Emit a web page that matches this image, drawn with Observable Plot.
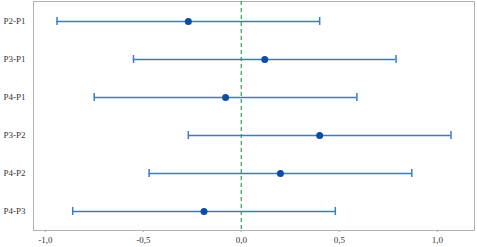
<!DOCTYPE html>
<html>
<head>
<meta charset="utf-8">
<script src="https://cdn.jsdelivr.net/npm/d3@7"></script>
<script src="https://cdn.jsdelivr.net/npm/@observablehq/plot@0.6"></script>
<style>
  html, body { margin: 0; padding: 0; background: #fff; }
  #chart svg { display: block; }
</style>
</head>
<body>
<div id="chart"></div>
<script>
const comparisons = ["P2-P1", "P3-P1", "P4-P1", "P3-P2", "P4-P2", "P4-P3"];
const estimates   = [-0.27, 0.12, -0.08, 0.40, 0.20, -0.19];
const lowers      = [-0.94, -0.55, -0.75, -0.27, -0.47, -0.86];
const uppers      = [0.40, 0.79, 0.59, 1.07, 0.87, 0.48];
const xTicks      = [-1, -0.5, 0, 0.5, 1];

const data = comparisons.map((name, i) => ({
  name, est: estimates[i], lo: lowers[i], hi: uppers[i]
}));

const fmt = v => d3.format(".1f")(v).replace(".", ",").replace("\u2212", "-");
const lineColor = "#3b7cc6";
const dotColor = "#0b4ea3";

const chart = Plot.plot({
  width: 477,
  height: 247,
  marginLeft: 33,
  marginRight: 3,
  marginTop: 1,
  marginBottom: 17,
  style: { fontFamily: "'Liberation Serif', 'Times New Roman', serif", fontSize: "9px", color: "#333", background: "#fff" },
  x: { domain: [-1.06, 1.19], ticks: xTicks, tickFormat: fmt, label: null },
  y: { domain: comparisons, type: "band", padding: 0, label: null },
  marks: [
    Plot.frame({ stroke: "#b3b3b3", strokeWidth: 1 }),
    Plot.axisX({ ticks: xTicks, tickFormat: fmt, tickSize: 2, tickPadding: 4, stroke: "#aaa", fill: "#333", label: null }),
    Plot.axisY({ tickSize: 0, tickPadding: 8, fill: "#333", label: null }),
    Plot.ruleX([0], { stroke: "#2fa24a", strokeWidth: 1.2, strokeDasharray: "4,3" }),
    Plot.ruleY(data, { y: "name", x1: "lo", x2: "hi", stroke: lineColor, strokeWidth: 1.5 }),
    Plot.tickX(data, { x: "lo", y: "name", stroke: lineColor, strokeWidth: 1.5, insetTop: 15, insetBottom: 15 }),
    Plot.tickX(data, { x: "hi", y: "name", stroke: lineColor, strokeWidth: 1.5, insetTop: 15, insetBottom: 15 }),
    Plot.dot(data, { x: "est", y: "name", r: 3.5, fill: dotColor, stroke: "none" })
  ]
});
document.getElementById("chart").appendChild(chart);
</script>
</body>
</html>
